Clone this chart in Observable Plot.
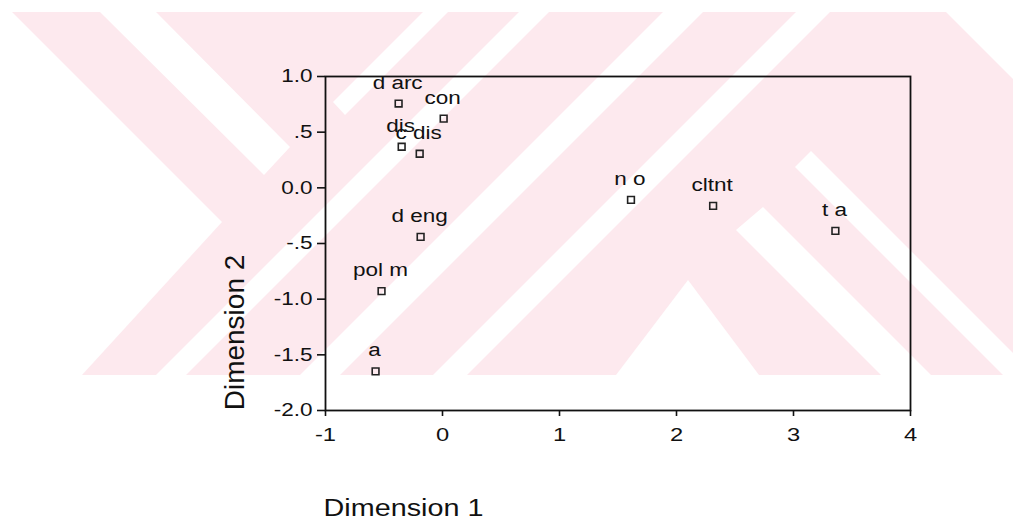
<!DOCTYPE html>
<html><head><meta charset="utf-8">
<script src="https://cdn.jsdelivr.net/npm/d3@7"></script>
<script src="https://cdn.jsdelivr.net/npm/@observablehq/plot@0.6"></script>
<style>
body{margin:0;background:#fff;}
#wrap{position:relative;width:1013px;height:522px;overflow:hidden;}
#wm{position:absolute;left:0;top:0;}
#chart{position:absolute;left:0;top:0;}
</style></head><body>
<div id="wrap">
<svg id="wm" width="1013" height="522" aria-hidden="true">
<rect x="0" y="12" width="1013" height="363" fill="#fde9ee"/>
<g fill="#ffffff">
<polygon points="0,12 12,12 222,222 82,375 0,375"/>
<polygon points="100,12 156,12 290,147 264,175"/>
<polygon points="423,12 448,12 345,115 333,102"/>
<polygon points="519,12 549,12 186,375 156,375"/>
<polygon points="663,12 703,12 340,375 300,375"/>
<polygon points="796,12 830,12 467,375 433,375"/>
<polygon points="688,280 759,375 616,375"/>
<polygon points="736,230 763,207 931,375 881,375"/>
<polygon points="795,167 811,151 1035,375 1003,375"/>
<polygon points="946,12 1013,12 1013,79"/>
</g>
</svg>
<div id="chart"></div>
</div>
<script>
// Category labels and coordinates
const labels = ["d arc", "con", "dis", "c dis", "d eng", "pol m", "a", "n o", "cltnt", "t a"];
const dim1 = [-0.375, 0.01, -0.349, -0.195, -0.187, -0.521, -0.572, 1.611, 2.313, 3.358];
const dim2 = [0.757, 0.622, 0.369, 0.306, -0.441, -0.928, -1.649, -0.108, -0.162, -0.387];

// Axis ticks and their labels
const xTicks = [-1, 0, 1, 2, 3, 4];
const xTickLabels = ["-1", "0", "1", "2", "3", "4"];
const yTicks = [1, 0.5, 0, -0.5, -1, -1.5, -2];
const yTickLabels = ["1.0", ".5", "0.0", "-.5", "-1.0", "-1.5", "-2.0"];

const xTitle = "Dimension 1";
const yTitle = "Dimension 2";

const points = labels.map((label, i) => ({label, x: dim1[i], y: dim2[i]}));
const xFmt = v => xTickLabels[xTicks.indexOf(v)];
const yFmt = v => yTickLabels[yTicks.indexOf(v)];

const chart = Plot.plot({
  width: 1013,
  height: 522,
  marginLeft: 325,
  marginRight: 103,
  marginTop: 76,
  marginBottom: 112,
  style: {background: "transparent", fontFamily: "'Liberation Sans', Arial, sans-serif", color: "#111"},
  x: {domain: [-1, 4]},
  y: {domain: [-2, 1]},
  marks: [
    Plot.frame({stroke: "#111", strokeWidth: 1.8}),
    Plot.axisX({ticks: xTicks, tickFormat: xFmt, tickSize: 6, tickPadding: 11, fontSize: 19, label: null, stroke: "#111", strokeWidth: 1.6}),
    Plot.axisY({ticks: yTicks, tickFormat: yFmt, tickSize: 8, tickPadding: 5, fontSize: 18, label: null, stroke: "#111", strokeWidth: 1.6}),
    Plot.dot(points, {x: "x", y: "y", symbol: "square", r: 3.8, stroke: "#222", strokeWidth: 1.6, fill: "none"}),
    Plot.text(points, {x: "x", y: "y", text: "label", dy: -15, dx: -1, lineAnchor: "bottom", fontSize: 18, fill: "#111"}),
    Plot.text([xTitle], {frameAnchor: "bottom-left", textAnchor: "middle", dx: 78, dy: 105, lineAnchor: "bottom", fontSize: 23, fill: "#111"}),
    Plot.text([yTitle], {frameAnchor: "left", textAnchor: "middle", dx: -82, dy: 89, rotate: -90, lineAnchor: "bottom", fontSize: 28, fill: "#111"})
  ]
});
document.getElementById("chart").appendChild(chart);

// The reference's lettering is horizontally wide: stretch horizontal texts.
chart.querySelectorAll("text").forEach(t => {
  const tr = t.getAttribute("transform") || "";
  if (tr.includes("rotate")) return;
  const len = t.getComputedTextLength();
  if (len > 0) {
    t.setAttribute("textLength", (len * 1.25).toFixed(1));
    t.setAttribute("lengthAdjust", "spacingAndGlyphs");
  }
});
</script>
</body></html>
